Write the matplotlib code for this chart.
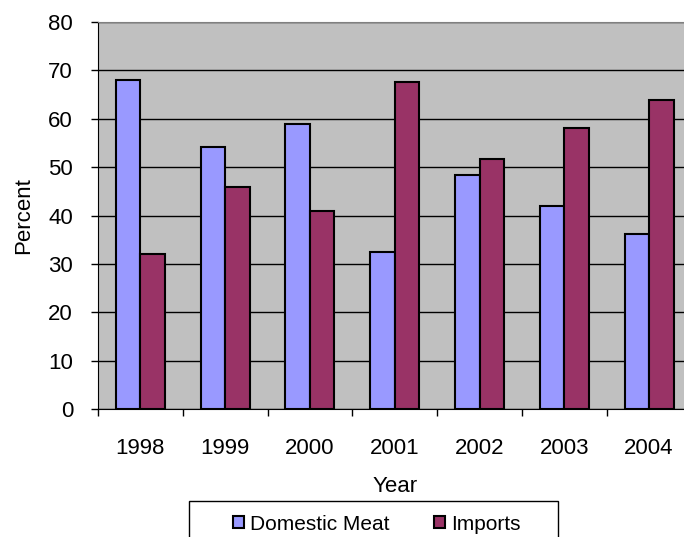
import matplotlib
matplotlib.use('Agg')
from matplotlib import pyplot as plt
from matplotlib.patches import Rectangle
import numpy as np

# Data
years = ['1998', '1999', '2000', '2001', '2002', '2003', '2004']
domestic = [68.0, 54.2, 59.0, 32.4, 48.3, 41.9, 36.2]
imports = [32.0, 45.8, 41.0, 67.6, 51.7, 58.1, 63.8]

plt.rcParams['font.family'] = ['Liberation Sans', 'DejaVu Sans']

fig = plt.figure(figsize=(6.84, 5.37), dpi=100)
# plot area runs a bit past the right edge of the image, like the original
ax = fig.add_axes([98 / 684, 1 - 409 / 537, (691.5 - 98) / 684, (409 - 22) / 537])

x = np.arange(len(years))
w = 0.289
ax.bar(x - w / 2, domestic, w, color='#9999FF', edgecolor='black', linewidth=1.5,
       label='Domestic Meat', zorder=3)
ax.bar(x + w / 2, imports, w, color='#993366', edgecolor='black', linewidth=1.5,
       label='Imports', zorder=3)

ax.set_facecolor('#C0C0C0')
ax.set_xlim(-0.5, len(years) - 0.5)
ax.set_ylim(0, 80)
ax.set_yticks(range(0, 81, 10))
ax.yaxis.grid(True, color='black', linewidth=1.0, zorder=1)
ax.set_axisbelow(True)

# category labels in the middle, tick marks between categories
ax.set_xticks(x)
ax.set_xticklabels(years)
ax.set_xticks(np.arange(-0.5, len(years), 1), minor=True)
ax.tick_params(axis='x', which='major', length=0, pad=21, labelsize=16)
ax.tick_params(axis='x', which='minor', length=5, width=1, direction='out')
ax.tick_params(axis='y', length=5, width=1, direction='out', pad=13, labelsize=16)

ax.spines['top'].set_color('#808080')
ax.spines['right'].set_visible(False)
ax.spines['left'].set_color('black')
ax.spines['bottom'].set_color('black')

ax.set_xlabel('Year', fontsize=16, labelpad=12)
ax.set_ylabel('Percent', fontsize=16, labelpad=10)

# legend box (cut off at the bottom of the image)
fig.patches.append(Rectangle((189 / 684, 1 - 545 / 537), (558 - 189) / 684, 44 / 537,
                             transform=fig.transFigure, facecolor='white',
                             edgecolor='black', linewidth=1.0))
leg = fig.legend(loc='center', bbox_to_anchor=(377 / 684, 1 - 524 / 537),
                 ncol=2, fontsize=15, frameon=False,
                 handlelength=0.5, handleheight=0.5,
                 handletextpad=0.3, columnspacing=2.15, borderpad=0,
                 borderaxespad=0)

fig.savefig('out.png', dpi=100)
